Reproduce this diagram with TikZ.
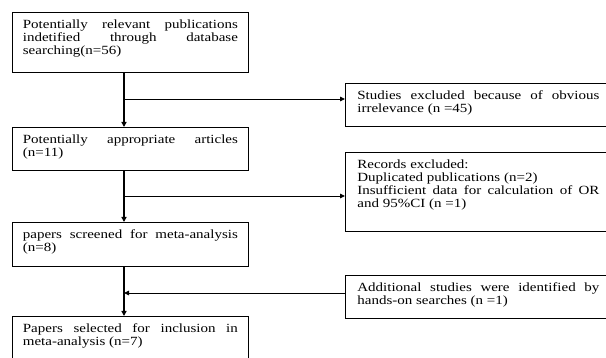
\documentclass[tikz,border=0pt]{standalone}
\usepackage{fontspec}
\setmainfont{Liberation Serif}[FakeStretch=1.2]
\usetikzlibrary{arrows.meta, positioning}

\begin{document}
\hyphenpenalty=10000
\exhyphenpenalty=10000
\tolerance=9999
\begin{tikzpicture}[
  x=1pt, y=1pt,
  boxtext/.style={font=\fontsize{12.5}{13}\selectfont},
  mainbox/.style={boxtext, draw, line width=0.8pt, anchor=north west, align=justify,
    text width=215pt, inner xsep=10.5pt, inner ysep=5pt, text height=11pt},
  sidebox/.style={boxtext, draw, line width=0.8pt, anchor=north west, align=justify,
    text width=242pt, inner xsep=12pt, inner ysep=5pt, text height=11pt},
  flow/.style={line width=1.3pt, -{Triangle[length=5pt,width=5pt]}},
  branch/.style={line width=0.9pt, -{Triangle[length=5pt,width=4.5pt]}}
]
\useasboundingbox (0,0) rectangle (606,-358);
\clip (0,0) rectangle (606,-358);

% main column
\node[mainbox, text depth=39pt] (search) at (12,-12)
  {Potentially relevant publications indetified through database searching(n=56)};
\node[mainbox, text depth=22pt] (approp) at (12,-127)
  {Potentially appropriate articles (n=11)};
\node[mainbox, text depth=23pt] (screen) at (12,-222)
  {papers screened for meta-analysis (n=8)};
\node[mainbox, text depth=40pt] (select) at (12,-316)
  {Papers selected for inclusion in meta-analysis (n=7)};

% side boxes
\node[sidebox, text depth=22pt] (irrel) at (345,-83)
  {Studies excluded because of obvious irrelevance (n =45)};
\node[sidebox, text depth=58pt] (records) at (345,-152)
  {Records excluded:\\
   Duplicated publications (n=2)\\
   Insufficient data for calculation of OR and 95\%CI (n =1)};
\node[sidebox, text depth=22pt] (hands) at (345,-275)
  {Additional studies were identified by hands-on searches (n =1)};

% connectors
\draw[flow] (search.south -| 124,0) -- (approp.north -| 124,0);
\draw[flow] (approp.south -| 124,0) -- (screen.north -| 124,0);
\draw[flow] (screen.south -| 124,0) -- (select.north -| 124,0);

\coordinate (j1) at (124,-99);
\coordinate (j2) at (124,-196);
\coordinate (j3) at (124,-293);
\draw[branch] (j1) -- (j1 -| irrel.west);
\draw[branch] (j2) -- (j2 -| records.west);
\draw[branch] (j3 -| hands.west) -- (j3);
\end{tikzpicture}
\end{document}
